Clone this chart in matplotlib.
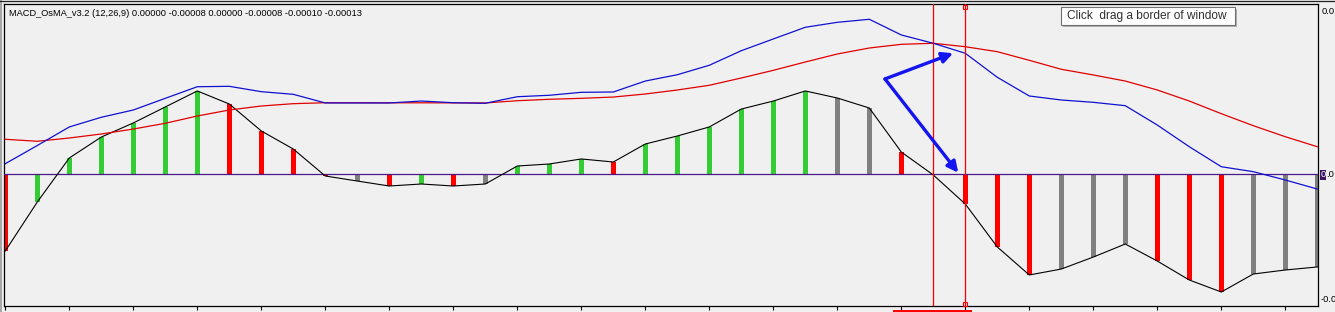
import matplotlib
matplotlib.use("Agg")
import matplotlib.pyplot as plt
from matplotlib.patches import Rectangle
from matplotlib.lines import Line2D

# ---------------- data (units of 1e-5) ----------------
bar_index = list(range(42))
osma = [-9.62, -3.50, 2.00, 4.62, 6.38, 8.38, 10.38, 8.75, 5.38, 3.12,
        -0.25, -0.88, -1.50, -1.25, -1.50, -1.25, 1.00, 1.25, 1.88, 1.50,
        3.75, 4.75, 5.88, 8.12, 9.12, 10.38, 9.50, 8.25, 2.75, -0.12,
        -3.75, -9.12, -12.62, -11.88, -10.38, -8.75, -10.88, -13.25, -14.75, -12.50,
        -12.00, -11.62]
bar_state = ["dn", "up", "up", "up", "up", "up", "up", "dn", "dn", "dn",
             "dn", "fl", "dn", "up", "dn", "fl", "up", "up", "up", "dn",
             "up", "up", "up", "up", "up", "up", "fl", "fl", "dn", "dn",
             "dn", "dn", "dn", "fl", "fl", "fl", "dn", "dn", "dn", "fl",
             "fl", "fl"]
macd = [1.29, 3.56, 5.88, 7.09, 8.00, 9.46, 10.91, 10.96, 10.29, 9.96,
        8.88, 8.88, 8.88, 9.12, 8.91, 8.84, 9.66, 9.84, 10.21, 10.25,
        11.62, 12.41, 13.59, 15.41, 16.88, 18.34, 18.96, 19.34, 17.38, 16.34,
        15.09, 12.09, 9.75, 9.25, 8.96, 8.54, 6.12, 3.41, 0.91, 0.29,
        -0.75, -1.88]
signal = [4.34, 4.09, 4.50, 5.00, 5.62, 6.34, 7.25, 8.00, 8.50, 8.79,
          8.91, 8.91, 8.90, 8.90, 8.89, 8.88, 9.16, 9.34, 9.46, 9.62,
          10.00, 10.50, 11.09, 12.00, 12.96, 14.00, 15.00, 15.75, 16.21, 16.34,
          15.91, 15.29, 14.21, 13.09, 12.38, 11.62, 10.50, 9.12, 7.54, 6.04,
          4.66, 3.41]
title_text = "MACD_OsMA_v3.2 (12,26,9) 0.00000 -0.00008 0.00000 -0.00008 -0.00010 -0.00013"
tooltip_text = "Click  drag a border of window"
right_labels = ["0.0", "0", ".0", "-0.0"]
time_labels = ["3 Mar 00:00", "3 Mar 08:00", "3 Mar 16:00", "4 Mar 00:00", "4 Mar 08:00",
               "4 Mar 16:00", "5 Mar 00:00", "5 Mar 08:00", "5 Mar 16:00", "6 Mar 00:00",
               "6 Mar 08:00", "6 Mar 16:00", "7 Mar 00:00", "7 Mar 08:00", "7 Mar 16:00",
               "10 Mar 00:00", "10 Mar 08:00", "10 Mar 16:00", "11 Mar 00:00", "11 Mar 08:00",
               "11 Mar 16:00"]
cursor_bars = [29, 30]
arrow_origin = (27.49, 11.88)
arrow_tips = [(29.62, 15.09), (29.78, 0.16)]

# ---------------- style ----------------
W, H = 1335, 312
BG = "#f0f0f0"
state_colors = {"up": "#32cd32", "dn": "#ff0000", "fl": "#808080"}
FONT = ["Liberation Sans", "DejaVu Sans"]
FS = 6.7

def fx(x):
    return x / W

def fy(y):
    return (H - y) / H

fig = plt.figure(figsize=(W / 100, H / 100), dpi=100, facecolor=BG)

ax_l, ax_r, ax_t, ax_b = 4, 1318, 4, 306
ax = fig.add_axes([fx(ax_l), fy(ax_b), fx(ax_r - ax_l), (ax_b - ax_t) / H])
ax.set_facecolor(BG)
x0 = 5.3
step = 32.0
ax.set_xlim((ax_l - x0) / step, (ax_r - x0) / step)
ax.set_ylim(-16.5, 21.25)

colors = [state_colors[s] for s in bar_state]
ax.bar(bar_index, osma, width=0.14, color=colors, linewidth=0, zorder=2)
ax.axhline(0, color="#4b1a8a", lw=0.9, zorder=3)
ax.plot(bar_index, osma, color="black", lw=0.8, zorder=4)
ax.plot(bar_index, signal, color="#e00000", lw=0.9, zorder=4)
ax.plot(bar_index, macd, color="#1010d0", lw=0.9, zorder=5)

for cb in cursor_bars:
    ax.axvline(cb, color="#ff0000", lw=0.9, zorder=6)
ax.plot([cursor_bars[1]] * 2, [0.99, 0.008], ls="none", marker="s", ms=3.2,
        mfc="none", mec="#ff0000", mew=0.8, transform=ax.get_xaxis_transform(),
        clip_on=False, zorder=7)

for tip in arrow_tips:
    ax.annotate("", xy=tip, xytext=arrow_origin,
                arrowprops=dict(arrowstyle="-|>", color="#1414f0", lw=2.4,
                                mutation_scale=16, shrinkA=0, shrinkB=0),
                zorder=8)

for s in ax.spines.values():
    s.set_color("black")
    s.set_linewidth(0.9)

ax.set_yticks([])
ax.set_xticks(bar_index[::2])
ax.set_xticklabels([])
ax.tick_params(axis="x", direction="out", length=3.2, width=0.8, color="black")

# cut-off time labels below the axis (only their tops show)
for i, lab in zip(bar_index[::2], time_labels):
    px = x0 + step * i + 14
    fig.text(fx(px), fy(311.6), lab, fontsize=7, family=FONT, color="#303030",
             ha="left", va="top")

# red time label box of the cursor
fig.add_artist(Rectangle((fx(893), fy(312.5)), fx(972 - 893), 2.7 / H,
                         transform=fig.transFigure, color="#ff0000", lw=0))

# frame decorations
fig.add_artist(Line2D([0, 1], [fy(1.2)] * 2, transform=fig.transFigure, color="#202020", lw=0.9))
fig.add_artist(Rectangle((0, 0), fx(2.3), 1, transform=fig.transFigure, color="#a8a8a8", lw=0))

# title
fig.text(fx(9), fy(13.5), title_text, fontsize=FS, family=FONT, color="black",
         ha="left", va="center")

# right-side scale labels (cut off)
fig.text(fx(1322), fy(12), right_labels[0], fontsize=FS, family=FONT, ha="left", va="center")
fig.add_artist(Rectangle((fx(1320), fy(179.5)), fx(6), 9.5 / H, transform=fig.transFigure,
                         color="#3c1464", lw=0))
fig.text(fx(1321), fy(174.5), right_labels[1], fontsize=FS, family=FONT, color="white",
         ha="left", va="center")
fig.text(fx(1326.3), fy(174.5), right_labels[2], fontsize=FS, family=FONT, color="black",
         ha="left", va="center")
fig.text(fx(1321), fy(299), right_labels[3], fontsize=FS, family=FONT, ha="left", va="center")

# tooltip
fig.add_artist(Rectangle((fx(1063), fy(26.5)), fx(173.5), 17 / H, transform=fig.transFigure,
                         color="#b0b0b0", lw=0))
fig.add_artist(Rectangle((fx(1061), fy(24.5)), fx(173.5), 17 / H, transform=fig.transFigure,
                         facecolor="white", edgecolor="#707070", lw=0.8))
fig.text(fx(1067), fy(16), tooltip_text, fontsize=8.6, family=FONT, color="#303030",
         ha="left", va="center")

fig.savefig("out.png", dpi=100, facecolor=BG)
